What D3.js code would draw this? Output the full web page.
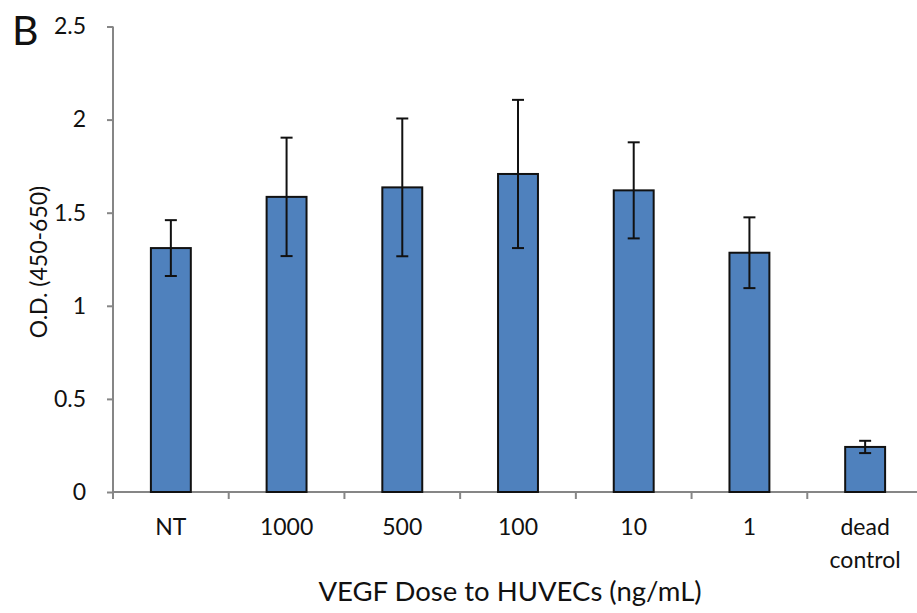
<!DOCTYPE html>
<meta charset="utf-8">
<head>
  <script src="https://d3js.org/d3.v7.min.js"></script>
  <style>
    body { margin: 0; background: #fff; }
    text { font-family: Lato, "Open Sans", sans-serif; fill: #111; }
  </style>
</head>
<body>
<div id="container"></div>
<script>
// data
var categories = ["NT", "1000", "500", "100", "10", "1", "dead control"];
var values = [1.31, 1.585, 1.636, 1.708, 1.62, 1.285, 0.242];
var errors = [0.15, 0.318, 0.37, 0.398, 0.258, 0.19, 0.033];
var yTicks = [0, 0.5, 1, 1.5, 2, 2.5];

var width = 917, height = 613;

var svg = d3.select("#container").append("svg")
  .attr("width", width)
  .attr("height", height);

var x = d3.scaleBand()
  .domain(categories)
  .range([113, 923])
  .paddingInner(0.655)
  .paddingOuter(0.3275);

var y = d3.scaleLinear()
  .domain([0, 2.5])
  .range([492, 26.5]);

var axisColor = "#868686";

// y axis
var yAxis = svg.append("g")
  .attr("transform", "translate(113,0)")
  .call(d3.axisLeft(y).tickValues(yTicks).tickSize(6).tickPadding(21)
    .tickFormat(function (d) { return d; }));
yAxis.select(".domain").attr("stroke", axisColor).attr("stroke-width", 2)
  .attr("d", "M0," + y(2.5) + "V" + y(0));
yAxis.selectAll(".tick line").attr("stroke", axisColor).attr("stroke-width", 2);
yAxis.selectAll(".tick text").style("font-size", "23px").attr("fill", "#111");

// x axis: line and ticks at category boundaries
var xg = svg.append("g");
xg.append("line")
  .attr("x1", 113).attr("x2", 923)
  .attr("y1", y(0)).attr("y2", y(0))
  .attr("stroke", axisColor).attr("stroke-width", 2);
var step = x.step();
xg.selectAll(".xt").data(d3.range(categories.length + 1)).enter().append("line")
  .attr("x1", function (i) { return 113 + i * step; })
  .attr("x2", function (i) { return 113 + i * step; })
  .attr("y1", y(0)).attr("y2", y(0) + 7)
  .attr("stroke", axisColor).attr("stroke-width", 2);

// x labels
xg.selectAll(".xl").data(categories).enter().append("text")
  .attr("text-anchor", "middle")
  .style("font-size", "23px")
  .attr("transform", function (d) { return "translate(" + (x(d) + x.bandwidth() / 2) + ",535)"; })
  .each(function (d) {
    var t = d3.select(this);
    d.split(" ").forEach(function (w, i) {
      t.append("tspan").attr("x", 0).attr("dy", i === 0 ? 0 : 33).text(w);
    });
  });

// bars
svg.selectAll(".bar").data(categories).enter().append("rect")
  .attr("x", function (d) { return x(d); })
  .attr("width", x.bandwidth())
  .attr("y", function (d, i) { return y(values[i]); })
  .attr("height", function (d, i) { return y(0) - y(values[i]); })
  .attr("fill", "#4F81BD")
  .attr("stroke", "#111")
  .attr("stroke-width", 2);

// error bars
var eb = svg.selectAll(".err").data(categories).enter().append("g")
  .attr("stroke", "#111").attr("stroke-width", 2);
eb.append("line")
  .attr("x1", function (d) { return x(d) + x.bandwidth() / 2; })
  .attr("x2", function (d) { return x(d) + x.bandwidth() / 2; })
  .attr("y1", function (d, i) { return y(values[i] + errors[i]); })
  .attr("y2", function (d, i) { return y(values[i] - errors[i]); });
[1, -1].forEach(function (s) {
  eb.append("line")
    .attr("x1", function (d) { return x(d) + x.bandwidth() / 2 - 6; })
    .attr("x2", function (d) { return x(d) + x.bandwidth() / 2 + 6; })
    .attr("y1", function (d, i) { return y(values[i] + s * errors[i]); })
    .attr("y2", function (d, i) { return y(values[i] + s * errors[i]); });
});

// axis titles
svg.append("text")
  .attr("x", 510).attr("y", 601)
  .attr("text-anchor", "middle")
  .style("font-size", "27.5px")
  .text("VEGF Dose to HUVECs (ng/mL)");

svg.append("text")
  .attr("transform", "translate(47,262) rotate(-90)")
  .attr("text-anchor", "middle")
  .style("font-size", "23px")
  .text("O.D. (450-650)");

svg.append("text")
  .attr("x", 12).attr("y", 45)
  .style("font-size", "41px")
  .text("B");
</script>
</body>
